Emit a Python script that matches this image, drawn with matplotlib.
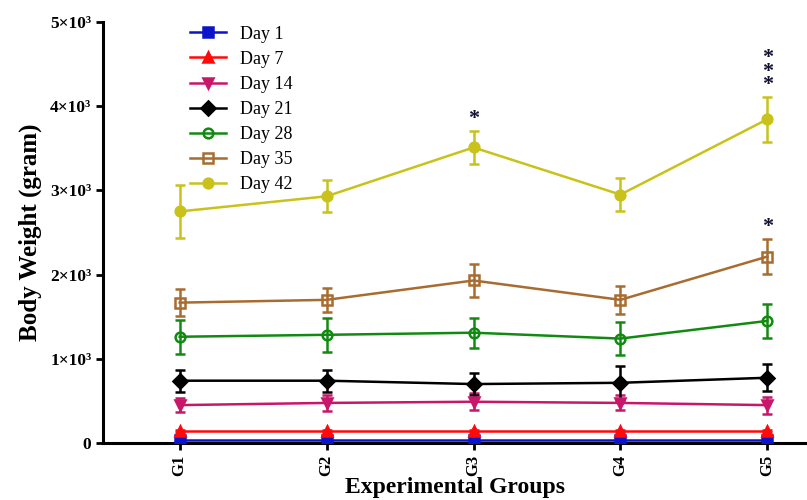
import numpy as np
import matplotlib.pyplot as plt
from matplotlib.lines import Line2D
from matplotlib.ticker import FixedLocator

# Data
groups = ['G1', 'G2', 'G3', 'G4', 'G5']
days = ['Day 1', 'Day 7', 'Day 14', 'Day 21', 'Day 28', 'Day 35', 'Day 42']

day1 = [35, 35, 35, 35, 35]
day7 = [140, 140, 140, 140, 140]
day14 = [450, 476, 490, 476, 450]
day21 = [740, 740, 700, 715, 775]
day28 = [1262, 1285, 1310, 1240, 1450]
day35 = [1667, 1700, 1930, 1700, 2214]
day42 = [2750, 2930, 3510, 2950, 3845]

err1 = [10, 10, 10, 10, 10]
err7 = [10, 10, 10, 10, 10]
err14 = [80, 100, 100, 90, 100]
err21 = [130, 130, 130, 200, 160]
err28 = [200, 200, 180, 200, 200]
err35 = [160, 140, 200, 170, 210]
err42 = [310, 190, 200, 200, 270]

# significance marks: (group index, series value, error, label)
sig_marks = [(2, day42[2], err42[2], '*'),
             (4, day42[4], err42[4], '*\n*\n*'),
             (4, day35[4], err35[4], '*')]

plt.rcParams['font.family'] = ['Liberation Serif', 'DejaVu Serif']

fig = plt.figure(figsize=(8.07, 5.0), dpi=100)
ax = fig.add_axes([0.128, 0.114, 0.872, 0.842])

series = [
    (day1, err1, '#0a14c8', 's', 'full'),
    (day7, err7, '#ff0a0a', '^', 'full'),
    (day14, err14, '#c8166a', 'v', 'full'),
    (day21, err21, '#000000', 'D', 'full'),
    (day28, err28, '#128a12', 'o', 'none'),
    (day35, err35, '#a86c30', 's', 'none'),
    (day42, err42, '#c8c21a', 'o', 'full'),
]

x = np.arange(len(groups))
handles = []
for (vals, errs, col, mk, fill), lab in zip(series, days):
    ax.errorbar(x, vals, yerr=errs, color=col, marker=mk, markersize=7,
                fillstyle=fill, markeredgewidth=1.8, linewidth=1.8,
                elinewidth=1.8, capsize=3.5, capthick=1.8, zorder=3)
    handles.append(Line2D([], [], color=col, marker=mk, markersize=7,
                          fillstyle=fill, markeredgewidth=1.8,
                          linewidth=1.8, label=lab))

for gi, v, e, s in sig_marks:
    ax.text(gi, v + e + 20, s, ha='center', va='bottom', fontsize=16,
            fontweight='bold', linespacing=0.55, color='#101030')

ax.set_xlim(-0.52, 4.27)
ax.set_ylim(0, 5000)
ax.set_xticks(x)
ax.set_xticklabels(groups, rotation=90, fontsize=12, fontweight='bold')
ax.yaxis.set_major_locator(FixedLocator([0, 1000, 2000, 3000, 4000, 5000]))
ax.set_yticklabels(['0', '1×10³', '2×10³', '3×10³', '4×10³', '5×10³'],
                   fontsize=12.5, fontweight='bold')

for side in ['top', 'right']:
    ax.spines[side].set_visible(False)
for side in ['left', 'bottom']:
    ax.spines[side].set_linewidth(2.2)
ax.tick_params(width=2, length=5, direction='out')

ax.set_xlabel('Experimental Groups', fontsize=17, fontweight='bold', labelpad=1)
ax.set_ylabel('Body Weight (gram)', fontsize=18, fontweight='bold', labelpad=6)

ax.legend(handles=handles, loc='upper left', bbox_to_anchor=(0.1, 1.03),
          frameon=False, fontsize=13, handlelength=2.0, labelspacing=0.45)

fig.savefig('out.png', dpi=100)
